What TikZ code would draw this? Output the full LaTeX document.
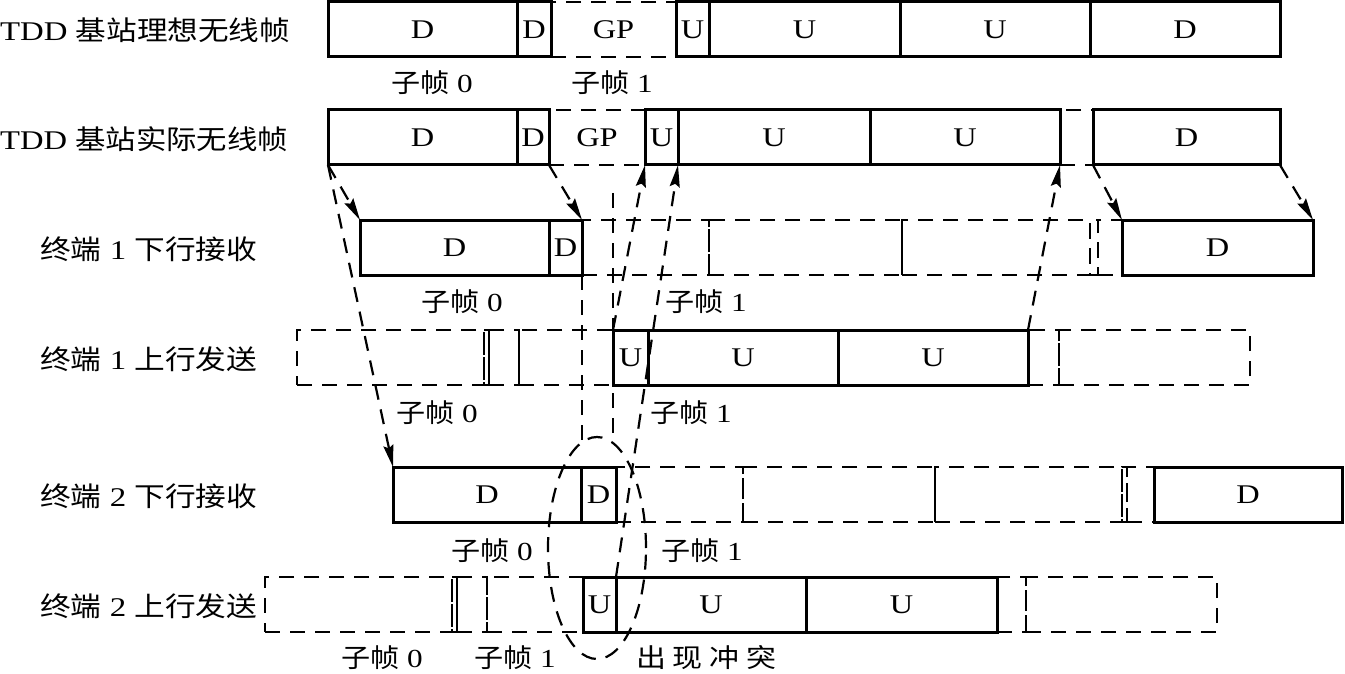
\documentclass[tikz,border=0pt]{standalone}
\usepackage{fontspec}
\setmainfont{Liberation Serif}[FakeStretch=1.2]
\newfontfamily\cjk{Noto Sans CJK SC}[FakeStretch=1.12]
\usetikzlibrary{arrows.meta,shapes.geometric}
\newcommand\fitw[2]{\resizebox{#1}{\height}{#2}}
\newcommand\bx[6]{\pgfmathsetmacro\bxw{#4-#3}\node[#1,minimum width=\bxw pt,anchor=north west] (#2) at (#3,#5) {#6};}
\begin{document}
\begin{tikzpicture}[x=1pt,y=-1pt,
  boxbase/.style={minimum height=55pt, inner sep=0pt, outer sep=0pt, font=\fontsize{27}{27}\selectfont},
  sbox/.style={boxbase, draw, line width=3pt},
  dbox/.style={boxbase, draw, line width=2.2pt, dash pattern=on 15pt off 10pt},
  dline/.style={line width=2.2pt, dash pattern=on 15pt off 10pt},
  thinsolid/.style={line width=2.2pt},
  arr/.style={dline, -{Stealth[length=22pt,width=10pt,inset=3pt]}},
  rowlbl/.style={anchor=west, inner sep=0pt, font=\fontsize{27}{27}\selectfont},
  sub/.style={inner sep=0pt, font=\fontsize{26}{26}\selectfont}]
\useasboundingbox (0,0) rectangle (1345,674);
% ---------- row 1 : ideal frame
\bx{dbox}{r1gp}{551}{676}{2}{GP}
\bx{sbox}{r1a}{328}{517}{2}{D}
\bx{sbox}{r1b}{517}{551}{2}{D}
\bx{sbox}{r1c}{676}{709}{2}{U}
\bx{sbox}{r1d}{709}{900}{2}{U}
\bx{sbox}{r1e}{900}{1090}{2}{U}
\bx{sbox}{r1f}{1090}{1280}{2}{D}
% ---------- row 2 : actual frame
\bx{dbox}{r2gp}{549}{645}{110}{GP}
\bx{dbox}{r2gap}{1060}{1093}{110}{}
\bx{sbox}{r2a}{328}{517}{110}{D}
\bx{sbox}{r2b}{517}{549}{110}{D}
\bx{sbox}{r2c}{645}{678}{110}{U}
\bx{sbox}{r2d}{678}{870}{110}{U}
\bx{sbox}{r2e}{870}{1060}{110}{U}
\bx{sbox}{r2f}{1093}{1280}{110}{D}
% ---------- row 3 : terminal 1 downlink
\bx{dbox}{r3c}{582}{709}{220}{}
\bx{dbox}{r3d}{709}{902}{220}{}
\bx{dbox}{r3e}{902}{1090}{220}{}
\bx{dbox}{r3f}{1090}{1098}{220}{}
\bx{dbox}{r3g}{1098}{1122}{220}{}
\draw[thinsolid] (r3d.north east) -- (r3d.south east);
\bx{sbox}{r3a}{360}{549}{220}{D}
\bx{sbox}{r3b}{549}{582}{220}{D}
\bx{sbox}{r3h}{1122}{1313}{220}{D}
% ---------- row 4 : terminal 1 uplink
\bx{dbox}{r4a}{297}{484}{330}{}
\bx{dbox}{r4b}{484}{489}{330}{}
\bx{dbox}{r4c}{489}{519}{330}{}
\bx{dbox}{r4d}{519}{613}{330}{}
\bx{dbox}{r4h}{1028}{1059}{330}{}
\bx{dbox}{r4i}{1059}{1250}{330}{}
\bx{sbox}{r4e}{613}{648}{330}{U}
\bx{sbox}{r4f}{648}{838}{330}{U}
\bx{sbox}{r4g}{838}{1028}{330}{U}
% ---------- row 5 : terminal 2 downlink
\bx{dbox}{r5c}{616}{743}{467}{}
\bx{dbox}{r5d}{743}{935}{467}{}
\bx{dbox}{r5e}{935}{1122}{467}{}
\bx{dbox}{r5f}{1122}{1127}{467}{}
\bx{dbox}{r5g}{1127}{1154}{467}{}
\bx{sbox}{r5a}{393}{581}{467}{D}
\bx{sbox}{r5b}{581}{616}{467}{D}
\bx{sbox}{r5h}{1154}{1342}{467}{D}
% ---------- row 6 : terminal 2 uplink
\bx{dbox}{r6a}{265}{452}{577}{}
\bx{dbox}{r6b}{452}{457}{577}{}
\bx{dbox}{r6c}{457}{487}{577}{}
\bx{dbox}{r6d}{487}{583}{577}{}
\bx{dbox}{r6h}{997}{1026}{577}{}
\bx{dbox}{r6i}{1026}{1217}{577}{}
\bx{sbox}{r6e}{583}{616}{577}{U}
\bx{sbox}{r6f}{616}{806}{577}{U}
\bx{sbox}{r6g}{806}{997}{577}{U}
% ---------- conflict ellipse and guide lines
\node[draw, dline, ellipse, minimum width=98pt, minimum height=222pt, inner sep=0pt] (ell) at (597,548) {};
\coordinate (v1top) at (613,193);
\coordinate (v1bot) at (613,441);
\coordinate (v2bot) at (582,441);
\draw[dline] (v1top) -- (v1bot);
\draw[dline] (r3b.south east) -- (v2bot);
% ---------- arrows
\draw[arr] (r2a.south west) -- (r3a.north west);
\draw[arr] (r2b.south east) -- (r3b.north east);
\draw[arr] (r2f.south west) -- (r3h.north west);
\draw[arr] (r2f.south east) -- (r3h.north east);
\draw[arr] (r2a.south west) -- (r5a.north west);
\draw[arr] (r4e.north west) -- (r2c.south west);
\draw[arr] (r6f.north west) -- (r2d.south west);
\draw[arr] (r4g.north east) -- (r2e.south east);
% ---------- row labels
\node[rowlbl] (l1) at (0,30) {\fitw{290pt}{TDD {\cjk 基站理想无线帧}}};
\node[rowlbl] (l2) at (0,139) {\fitw{288pt}{TDD {\cjk 基站实际无线帧}}};
\node[rowlbl] (l3) at (40,249) {\fitw{217pt}{{\cjk 终端} 1 {\cjk 下行接收}}};
\node[rowlbl] (l4) at (40,359) {\fitw{217pt}{{\cjk 终端} 1 {\cjk 上行发送}}};
\node[rowlbl] (l5) at (40,496) {\fitw{217pt}{{\cjk 终端} 2 {\cjk 下行接收}}};
\node[rowlbl] (l6) at (40,606) {\fitw{217pt}{{\cjk 终端} 2 {\cjk 上行发送}}};
% ---------- subframe labels
\node[sub] (s10) at (432,83) {{\cjk 子帧} 0};
\node[sub] (s11) at (612,83) {{\cjk 子帧} 1};
\node[sub] (s30) at (462,302) {{\cjk 子帧} 0};
\node[sub] (s31) at (706,302) {{\cjk 子帧} 1};
\node[sub] (s40) at (437,413) {{\cjk 子帧} 0};
\node[sub] (s41) at (691,413) {{\cjk 子帧} 1};
\node[sub] (s50) at (492,551) {{\cjk 子帧} 0};
\node[sub] (s51) at (702,551) {{\cjk 子帧} 1};
\node[sub] (s60) at (382,658) {{\cjk 子帧} 0};
\node[sub] (s61) at (515,658) {{\cjk 子帧} 1};
\node[sub] (conf) at (706,658) {\fitw{140pt}{\cjk 出 现 冲 突}};
\end{tikzpicture}
\end{document}
